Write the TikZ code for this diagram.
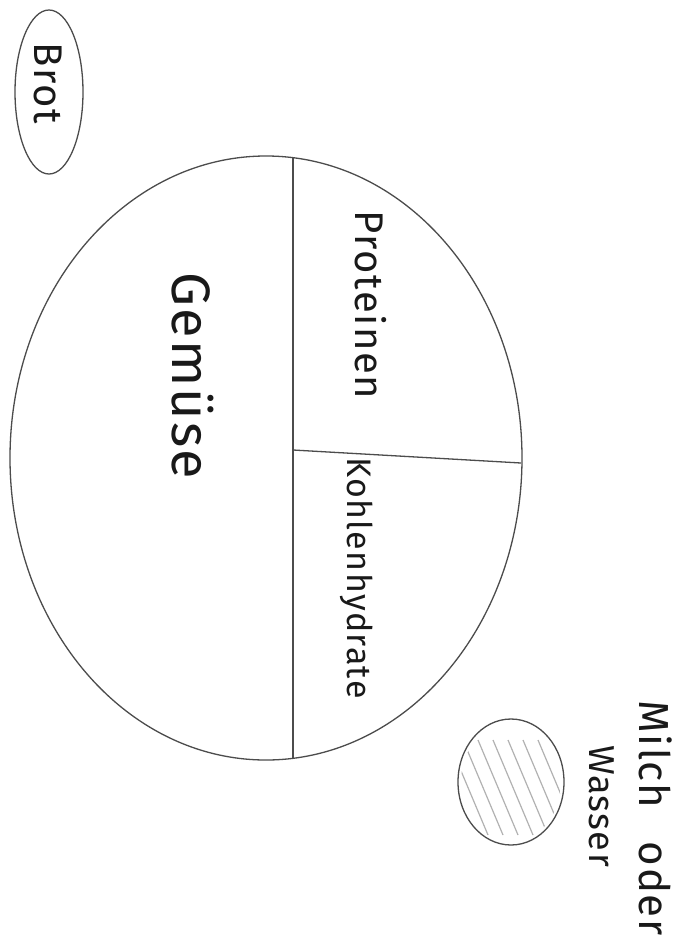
\documentclass[tikz,border=0pt]{standalone}
\usepackage{fontspec}
\setmainfont{Fira Sans}
\usetikzlibrary{shapes.geometric}
\begin{document}
\begin{tikzpicture}[x=1pt,y=-1pt,
  pen/.style={draw=black!70, line width=1.3pt},
  lbl/.style={rotate=-90, text=black!90, inner sep=0pt, font=\fontsize{#1}{#1}\selectfont\addfontfeatures{LetterSpace=4}},
  hatch/.style={draw=black!30, line width=1.2pt}]
\useasboundingbox[fill=white] (0,0) rectangle (699,943);
% plate
\node[pen, ellipse, inner sep=0pt, minimum width=512pt, minimum height=604pt] (plate) at (266,458) {};
\coordinate (ptop) at (293,158);
\coordinate (pbot) at (293,759);
\coordinate (pmid) at (293,450);
\coordinate (pright) at (521,463);
\draw[pen] (ptop) -- (pmid) -- (pbot);
\draw[pen] (pmid) -- (pright);
% bread
\node[pen, ellipse, inner sep=0pt, minimum width=68pt, minimum height=164pt] (brot) at (49,92) {};
\node[lbl=40] (brottext) at (48,83) {Brot};
% glass
\node[pen, ellipse, inner sep=0pt, minimum width=106pt, minimum height=126pt] (glass) at (511,782) {};
\begin{scope}
\clip (511,782) ellipse [x radius=50pt, y radius=60pt];
\foreach \dx in {-45,-30,-15,0,15,30,45}{
  \draw[hatch] (511+\dx-18,740) -- (511+\dx+22,835);
}
\end{scope}
% labels
\node[lbl=40] (prot) at (371,305) {Proteinen};
\node[lbl=54] (gem) at (193,376) {Gemüse};
\node[lbl=34] (kohl) at (357,578) {Kohlenhydrate};
\node[lbl=42] (milch) at (656,818) {Milch\hspace{0.8em}oder};
\node[lbl=36] (wasser) at (602,806) {Wasser};
\end{tikzpicture}
\end{document}
